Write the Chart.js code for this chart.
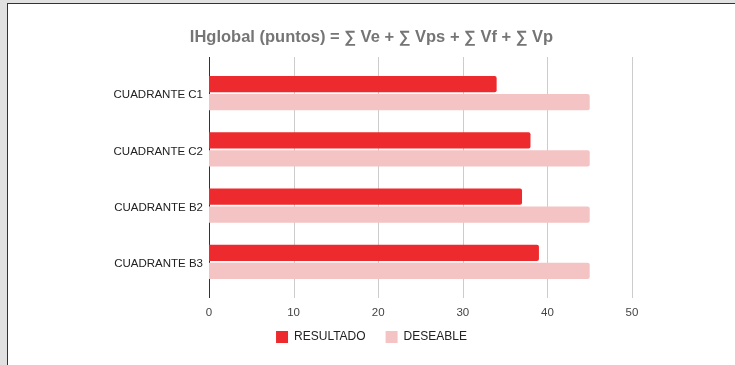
<!DOCTYPE html>
<html>
<head>
<meta charset="utf-8">
<script src="https://cdn.jsdelivr.net/npm/chart.js@4.4.1/dist/chart.umd.min.js"></script>
<style>
  html, body { margin: 0; padding: 0; background: #e1e1e1; width: 735px; height: 365px; overflow: hidden; }
  #frame { position: absolute; left: 7px; top: 3px; width: 728px; height: 362px; background: #fff;
           border-left: 1px solid #333; border-top: 1px solid #333; box-sizing: border-box; }
  #wrap { position: absolute; left: 8px; top: 4px; width: 727px; height: 361px; }
</style>
</head>
<body>
<div id="frame"></div>
<div id="wrap"><canvas id="c" width="727" height="361"></canvas></div>
<script>
const titleText = "IHglobal (puntos) = \u2211 Ve + \u2211 Vps + \u2211 Vf + \u2211 Vp";
const categories = ["CUADRANTE C1", "CUADRANTE C2", "CUADRANTE B2", "CUADRANTE B3"];
const resultado = [34, 38, 37, 39];
const deseable = [45, 45, 45, 45];
const seriesNames = ["RESULTADO", "DESEABLE"];
const xMin = 0, xMax = 50, xStep = 10;

const FONT = "'Liberation Sans', Arial, sans-serif";

const extendedGrid = {
  id: 'extendedGrid',
  beforeDatasetsDraw(chart) {
    const {ctx, chartArea, scales} = chart;
    const xs = scales.x;
    ctx.save();
    ctx.lineWidth = 1;
    xs.ticks.forEach(t => {
      const px = Math.round(xs.getPixelForValue(t.value)) + 0.5;
      ctx.strokeStyle = t.value === 0 ? '#333333' : '#cccccc';
      ctx.beginPath();
      ctx.moveTo(px, chartArea.top - 8);
      ctx.lineTo(px, chartArea.bottom + 8);
      ctx.stroke();
    });
    ctx.restore();
  }
};

new Chart(document.getElementById('c'), {
  type: 'bar',
  data: {
    labels: categories,
    datasets: [
      { label: seriesNames[0], data: resultado, backgroundColor: '#ed2b2e', borderRadius: 2,
        categoryPercentage: 0.64, barPercentage: 0.9 },
      { label: seriesNames[1], data: deseable, backgroundColor: '#f4c3c3', borderRadius: 2,
        categoryPercentage: 0.64, barPercentage: 0.9 }
    ]
  },
  options: {
    indexAxis: 'y',
    responsive: false,
    devicePixelRatio: 1,
    animation: false,
    layout: { padding: { left: 0, right: 0, top: 0, bottom: 12 } },
    plugins: {
      title: {
        display: true, text: titleText, color: '#757575',
        font: { family: FONT, size: 16.5, weight: 'bold' },
        padding: { top: 23.1, bottom: 18.1 }
      },
      legend: {
        position: 'bottom',
        labels: {
          boxWidth: 12, boxHeight: 12, padding: 20, color: '#222222',
          font: { family: FONT, size: 12 }
        }
      },
      tooltip: { enabled: false }
    },
    scales: {
      x: {
        min: xMin, max: xMax,
        grid: { display: false, drawTicks: false },
        border: { display: false },
        ticks: { stepSize: xStep, color: '#444444', font: { family: FONT, size: 11.5 }, padding: -29.9, mirror: true },
        afterFit(s) { s.height = 21; }
      },
      y: {
        grid: { display: false, drawTicks: false },
        border: { display: false },
        ticks: { color: '#222222', font: { family: FONT, size: 11.5 }, padding: 6, labelOffset: 2 },
        afterFit(s) { s.width = 201; }
      },
      yR: {
        type: 'linear', position: 'right', min: 0, max: 1,
        grid: { display: false, drawTicks: false }, border: { display: false },
        ticks: { display: false },
        afterFit(s) { s.width = 103; }
      }
    }
  },
  plugins: [extendedGrid]
});
</script>
</body>
</html>
